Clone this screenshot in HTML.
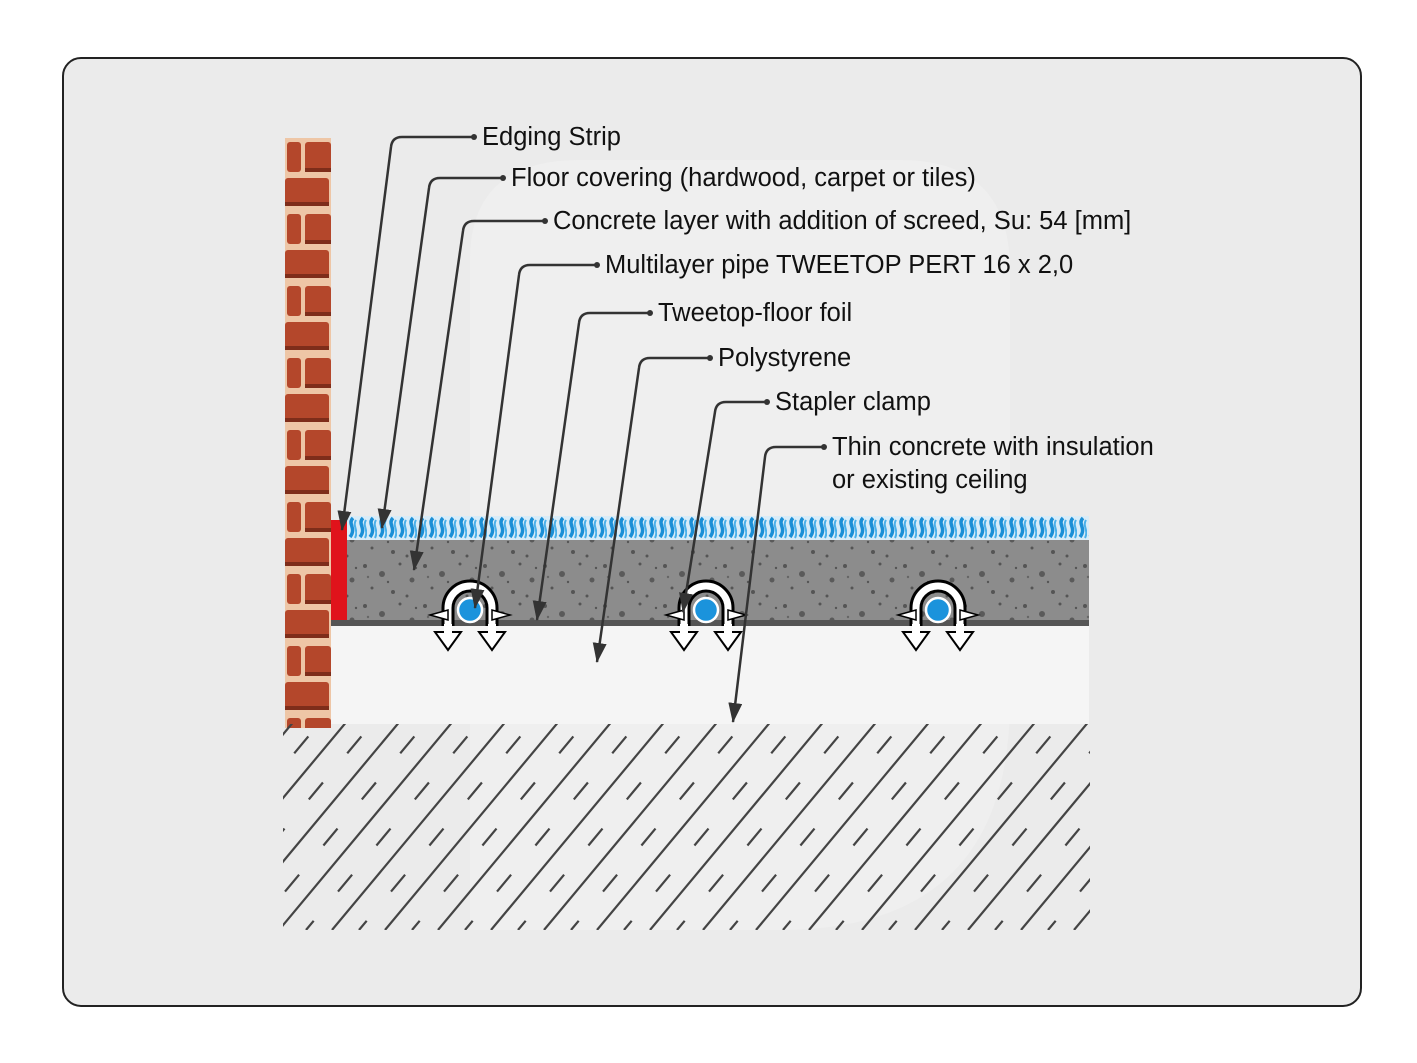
<!DOCTYPE html>
<html><head><meta charset="utf-8"><style>
html,body{margin:0;padding:0;background:#fff;}
svg{display:block;}
text{font-family:"Liberation Sans",sans-serif;font-size:25.5px;fill:#111;}
</style></head><body>
<svg width="1417" height="1063" viewBox="0 0 1417 1063" xmlns="http://www.w3.org/2000/svg">
<defs>
<marker id="ah" viewBox="0 0 20 14" refX="19" refY="7" markerWidth="20" markerHeight="14" markerUnits="userSpaceOnUse" orient="auto">
<path d="M0,0 L20,7 L0,14 Z" fill="#333"/>
</marker>
<pattern id="brick" width="46" height="72" patternUnits="userSpaceOnUse" x="285" y="138">
<rect width="46" height="72" fill="#eec6a6"/>
<rect x="2" y="4" width="14" height="30" rx="3" fill="#b4472b"/>
<rect x="20" y="4" width="26" height="30" rx="3" fill="#b4472b"/>
<rect x="0" y="40" width="44" height="28" rx="3" fill="#b4472b"/>
<rect x="0" y="64" width="44" height="4" fill="#7e2d1a"/>
<rect x="20" y="30" width="26" height="4" fill="#7e2d1a"/>
</pattern>
<pattern id="dots" width="60" height="40" patternUnits="userSpaceOnUse">
<rect width="60" height="40" fill="#8c8c8c"/>
<circle cx="5" cy="6" r="2" fill="#555"/><circle cx="22" cy="14" r="3" fill="#5a5a5a"/>
<circle cx="40" cy="4" r="1.5" fill="#555"/><circle cx="52" cy="20" r="2.5" fill="#5a5a5a"/>
<circle cx="12" cy="28" r="1.5" fill="#555"/><circle cx="33" cy="32" r="2" fill="#555"/>
<circle cx="47" cy="36" r="1.5" fill="#555"/><circle cx="28" cy="22" r="1.2" fill="#555"/>
<circle cx="8" cy="17" r="1.2" fill="#666"/><circle cx="56" cy="8" r="1.2" fill="#555"/>
</pattern>
<pattern id="waves" width="10" height="24" patternUnits="userSpaceOnUse" x="347" y="516">
<rect width="10" height="24" fill="#d8ecf8"/>
<path d="M6,2 C0,8 10,12 3,21" stroke="#1b8fd6" stroke-width="3.5" fill="none"/>
<path d="M9,4 C5,10 12,14 8,22" stroke="#4ab0ea" stroke-width="2" fill="none"/>
</pattern>
<clipPath id="hc"><rect x="283" y="724" width="807" height="206"/></clipPath>
<g id="clamp">
<path d="M-22,16 L-22,-2 A22,22 0 0 1 22,-2 L22,16" fill="none" stroke="#000" stroke-width="13"/>
<path d="M-22,16 L-22,-2 A22,22 0 0 1 22,-2 L22,16" fill="none" stroke="#fff" stroke-width="7"/>
<path d="M-40,5 L-22,0 L-22,10 Z M40,5 L22,0 L22,10 Z" fill="#fff" stroke="#000" stroke-width="1.5"/>
<path d="M-35,22 L-9,22 L-22,40 Z M9,22 L35,22 L22,40 Z" fill="#fff" stroke="#000" stroke-width="2"/>
<rect x="-26" y="14" width="8" height="10" fill="#fff"/><rect x="18" y="14" width="8" height="10" fill="#fff"/>
<circle cx="0" cy="0" r="12" fill="#1b93dc" stroke="#fff" stroke-width="2.5"/>
</g>
</defs>
<rect x="63" y="58" width="1298" height="948" rx="18" fill="#ebebeb" stroke="#222" stroke-width="2"/>
<path d="M470,260 Q470,160 580,160 L900,160 Q1010,160 1010,270 L1010,700 Q1010,930 780,930 L470,930 Z" fill="#f1f1f1" opacity="0.7"/>
<rect x="285" y="138" width="46" height="590" fill="url(#brick)"/>
<rect x="347" y="516" width="742" height="24" fill="url(#waves)"/>
<rect x="347" y="540" width="742" height="80" fill="url(#dots)"/>
<rect x="331" y="520" width="16" height="100" fill="#e0131b"/>
<rect x="331" y="620" width="758" height="6" fill="#555"/>
<rect x="331" y="626" width="758" height="98" fill="#f5f5f5"/>
<g clip-path="url(#hc)" stroke="#444" stroke-width="2.2">
<g id="hl">
<line x1="120" y1="930" x2="300" y2="714"/>
<line x1="147" y1="930" x2="327" y2="714" stroke-dasharray="22 38" stroke-dashoffset="10"/>
</g>
<use href="#hl" x="53"/><use href="#hl" x="106"/><use href="#hl" x="159"/><use href="#hl" x="212"/>
<use href="#hl" x="265"/><use href="#hl" x="318"/><use href="#hl" x="371"/><use href="#hl" x="424"/>
<use href="#hl" x="477"/><use href="#hl" x="530"/><use href="#hl" x="583"/><use href="#hl" x="636"/>
<use href="#hl" x="689"/><use href="#hl" x="742"/><use href="#hl" x="795"/><use href="#hl" x="848"/>
<use href="#hl" x="901"/><use href="#hl" x="954"/><use href="#hl" x="1007"/>
</g>
<use href="#clamp" x="470" y="610"/>
<use href="#clamp" x="706" y="610"/>
<use href="#clamp" x="938" y="610"/>
<g fill="none" stroke="#333" stroke-width="2.5">
<path d="M474,137 L402,137 Q392,137 391,147 L342,530" marker-end="url(#ah)"/>
<path d="M503,178 L440,178 Q430,178 429,188 L382,528" marker-end="url(#ah)"/>
<path d="M545,221 L474,221 Q464,221 463,231 L414,570" marker-end="url(#ah)"/>
<path d="M597,265 L530,265 Q520,265 519,275 L475,608" marker-end="url(#ah)"/>
<path d="M650,313 L590,313 Q580,313 579,323 L537,620" marker-end="url(#ah)"/>
<path d="M710,358 L650,358 Q640,358 639,368 L597,662" marker-end="url(#ah)"/>
<path d="M767,402 L726,402 Q716,402 715,412 L683,612" marker-end="url(#ah)"/>
<path d="M824,447 L776,447 Q766,447 765,457 L733,722" marker-end="url(#ah)"/>
</g>
<g fill="#333">
<circle cx="474" cy="137" r="3"/><circle cx="503" cy="178" r="3"/><circle cx="545" cy="221" r="3"/>
<circle cx="597" cy="265" r="3"/><circle cx="650" cy="313" r="3"/><circle cx="710" cy="358" r="3"/>
<circle cx="767" cy="402" r="3"/><circle cx="824" cy="447" r="3"/>
</g>
<text x="482" y="145">Edging Strip</text>
<text x="511" y="186">Floor covering (hardwood, carpet or tiles)</text>
<text x="553" y="229">Concrete layer with addition of screed, Su: 54 [mm]</text>
<text x="605" y="273">Multilayer pipe TWEETOP PERT 16 x 2,0</text>
<text x="658" y="321">Tweetop-floor foil</text>
<text x="718" y="366">Polystyrene</text>
<text x="775" y="410">Stapler clamp</text>
<text x="832" y="455">Thin concrete with insulation</text>
<text x="832" y="488">or existing ceiling</text>
</svg>
</body></html>
